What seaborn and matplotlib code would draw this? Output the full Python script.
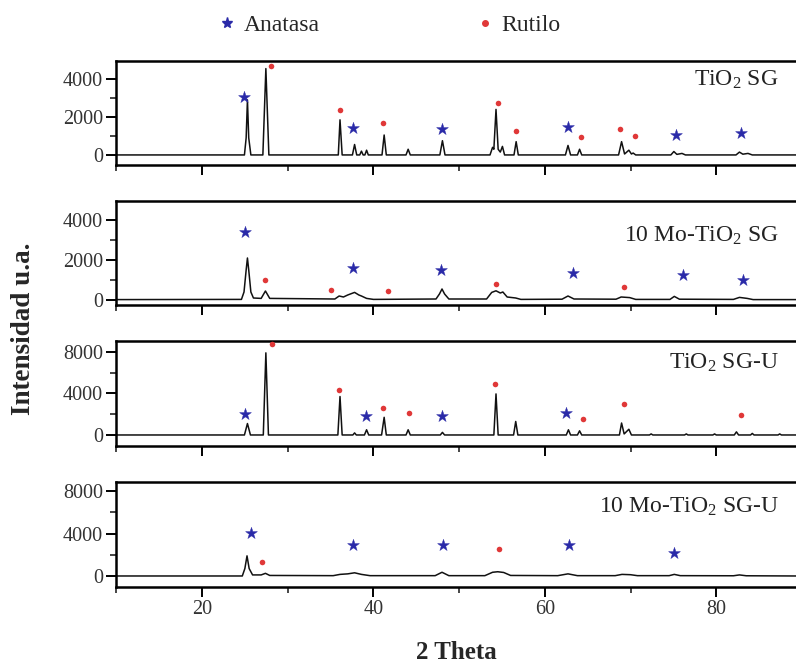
import numpy as np
import pandas as pd
import seaborn as sns
import matplotlib.pyplot as plt
from matplotlib.lines import Line2D
from matplotlib.ticker import MultipleLocator

sns.set_style("ticks")
plt.rcParams['font.family'] = ['Liberation Serif', 'DejaVu Serif']
plt.rcParams['mathtext.fontset'] = 'custom'
plt.rcParams['mathtext.rm'] = 'Liberation Serif'
plt.rcParams['mathtext.it'] = 'Liberation Serif:italic'
plt.rcParams['mathtext.bf'] = 'Liberation Serif:bold'

# ---------------- data ----------------
panel_labels = ["TiO$_\\mathregular{2}$ SG", "10 Mo-TiO$_\\mathregular{2}$ SG",
                "TiO$_\\mathregular{2}$ SG-U", "10 Mo-TiO$_\\mathregular{2}$ SG-U"]

# Panel 1: TiO2 SG
x_p1 = [10, 24.95, 25.15, 25.3, 25.45, 25.7, 27.1, 27.45, 27.8, 35.9, 36.1, 36.35,
        37.55, 37.8, 38.05, 38.4, 38.6, 38.8, 39.0, 39.2, 39.4, 41.0, 41.25, 41.5,
        43.8, 44.05, 44.3, 47.75, 48.05, 48.35, 53.6, 53.9, 54.05, 54.3, 54.55, 54.8,
        55.05, 55.3, 56.4, 56.65, 56.9, 62.4, 62.7, 63.0, 63.8, 64.05, 64.3,
        68.6, 68.95, 69.3, 69.8, 70.1, 70.3, 70.6, 74.7, 75.05, 75.4, 76.0, 76.4,
        82.3, 82.7, 83.1, 83.7, 84.2, 89.3]
y_p1 = [0, 0, 900, 2900, 900, 0, 0, 4550, 0, 0, 1850, 0,
        0, 550, 0, 0, 200, 0, 0, 250, 0, 0, 1050, 0,
        0, 300, 0, 0, 750, 0, 0, 400, 300, 2400, 300, 150,
        450, 0, 0, 700, 0, 0, 500, 0, 0, 300, 0,
        0, 700, 50, 250, 50, 100, 0, 0, 180, 30, 80, 0,
        0, 150, 40, 80, 0, 0]

# Panel 2: 10 Mo-TiO2 SG
x_p2 = [10, 24.6, 24.9, 25.15, 25.3, 25.45, 25.7, 26.0, 26.9, 27.4, 27.9,
        35.5, 36.0, 36.5, 37.0, 37.8, 38.3, 38.6, 39.2, 40.0,
        47.3, 47.7, 48.0, 48.3, 48.8, 53.2, 53.8, 54.3, 54.8, 55.1, 55.6, 56.6, 57.2,
        62.0, 62.7, 63.4, 68.3, 68.9, 69.9, 70.6, 74.6, 75.1, 75.7,
        82.0, 82.7, 83.6, 84.3, 89.3]
y_p2 = [20, 30, 400, 1500, 2100, 1500, 400, 100, 80, 450, 80,
        50, 200, 150, 250, 380, 250, 200, 80, 30,
        50, 300, 550, 300, 50, 50, 380, 460, 350, 400, 150, 100, 30,
        40, 200, 50, 40, 150, 120, 30, 30, 180, 40,
        30, 130, 80, 20, 20]

# Panel 3: TiO2 SG-U
x_p3 = [10, 24.95, 25.3, 25.65, 27.15, 27.45, 27.75, 35.85, 36.1, 36.35,
        37.6, 37.8, 38.0, 38.95, 39.2, 39.45, 40.95, 41.25, 41.5, 43.8, 44.05, 44.3,
        47.8, 48.05, 48.3, 54.05, 54.3, 54.55, 56.35, 56.6, 56.85, 62.5, 62.75, 63.0,
        63.8, 64.05, 64.3, 68.7, 68.95, 69.25, 69.8, 70.1, 72.2, 72.4, 72.6,
        76.3, 76.5, 76.7, 79.6, 79.8, 80.0, 82.1, 82.35, 82.6, 84.0, 84.2, 84.4,
        87.2, 87.4, 87.6, 89.3]
y_p3 = [0, 0, 1100, 0, 0, 7900, 0, 0, 3700, 0,
        0, 200, 0, 0, 500, 0, 0, 1700, 0, 0, 500, 0,
        0, 250, 0, 0, 3950, 0, 0, 1300, 0, 0, 500, 0,
        0, 400, 0, 0, 1150, 100, 550, 0, 0, 100, 0,
        0, 100, 0, 0, 100, 0, 0, 300, 0, 0, 150, 0,
        0, 100, 0, 0]

# Panel 4: 10 Mo-TiO2 SG-U
x_p4 = [10, 24.7, 25.0, 25.25, 25.5, 25.9, 26.9, 27.4, 27.9,
        35.3, 36.1, 37.0, 37.8, 38.6, 39.6, 47.2, 48.0, 48.8,
        53.0, 53.9, 54.5, 55.2, 56.0, 61.5, 62.7, 63.8,
        68.2, 69.0, 70.0, 70.8, 74.5, 75.1, 75.8, 82.0, 82.7, 83.5, 89.3]
y_p4 = [0, 0, 700, 1900, 700, 100, 100, 250, 50,
        30, 150, 200, 300, 150, 30, 30, 350, 30,
        30, 350, 400, 330, 50, 30, 200, 30,
        30, 150, 120, 30, 30, 150, 30, 20, 100, 20, 0]

# phase markers (Anatasa = star, Rutilo = dot)
ana_x = [[24.9, 37.6, 48.0, 62.65, 75.3, 82.9],
         [25.0, 37.6, 47.85, 63.3, 76.1, 83.1],
         [25.0, 39.1, 48.0, 62.5],
         [25.75, 37.6, 48.1, 62.8, 75.1]]
ana_y = [[3070, 1440, 1350, 1490, 1050, 1140],
         [3420, 1580, 1500, 1370, 1230, 990],
         [1970, 1810, 1810, 2130],
         [4100, 2940, 2940, 2940, 2180]]
rut_x = [[28.1, 36.1, 41.15, 54.5, 56.6, 64.25, 68.75, 70.5],
         [27.4, 35.1, 41.75, 54.35, 69.2],
         [28.2, 36.0, 41.15, 44.2, 54.2, 64.4, 69.2, 82.9],
         [27.0, 54.65]]
rut_y = [[4700, 2370, 1670, 2720, 1260, 965, 1350, 1020],
         [1000, 510, 460, 820, 660],
         [8730, 4350, 2600, 2130, 4890, 1490, 3020, 1900],
         [1340, 2560]]

label_y = [3950, 3200, 6900, 6500]
ylims = [(-530, 4950), (-250, 4950), (-1060, 9040), (-1040, 8870)]
ymajor = [2000, 2000, 4000, 4000]

curves_x = [x_p1, x_p2, x_p3, x_p4]
curves_y = [y_p1, y_p2, y_p3, y_p4]

star_color = "#2a2aa8"
dot_color = "#e03838"

# ---------------- figure ----------------
fig = plt.figure(figsize=(7.96, 6.71), dpi=100)
W, H = 796.0, 671.0
left = 116.3 / W
panel_px = [(61, 165), (201, 305), (341, 446), (482, 587)]

for i in range(4):
    top, bot = panel_px[i]
    ax = fig.add_axes([left, 1 - bot / H, 1 - left, (bot - top) / H])
    df = pd.DataFrame({"two_theta": curves_x[i], "intensity": curves_y[i]})
    sns.lineplot(data=df, x="two_theta", y="intensity", ax=ax, color="#111111",
                 linewidth=1.1, estimator=None, sort=False)
    sns.scatterplot(x=ana_x[i], y=ana_y[i], ax=ax, marker="*", s=80,
                    color=star_color, edgecolor=star_color, linewidth=0.3, zorder=5)
    sns.scatterplot(x=rut_x[i], y=rut_y[i], ax=ax, marker="o", s=16,
                    color=dot_color, edgecolor=dot_color, linewidth=0, zorder=5)
    ax.set_xlim(10, 89.3)
    ax.set_ylim(*ylims[i])
    ax.xaxis.set_major_locator(MultipleLocator(20))
    ax.xaxis.set_minor_locator(MultipleLocator(10))
    ax.yaxis.set_major_locator(MultipleLocator(ymajor[i]))
    ax.yaxis.set_minor_locator(MultipleLocator(ymajor[i] / 2))
    ax.tick_params(axis="both", which="major", direction="out", length=7.5,
                   width=1.4, labelsize=14.5, pad=2, colors="black")
    ax.tick_params(axis="both", which="minor", direction="out", length=4.5,
                   width=1.2)
    ax.tick_params(axis="y", labelcolor="#333333")
    for s in ["left", "top", "bottom"]:
        ax.spines[s].set_linewidth(1.8)
        ax.spines[s].set_color("black")
    ax.spines["right"].set_visible(False)
    ax.set_ylabel("")
    ax.text(87.3, label_y[i], panel_labels[i], ha="right", va="center",
            fontsize=17, color="#222222")
    if i < 3:
        ax.tick_params(axis="x", labelbottom=False)
        ax.set_xlabel("")
    else:
        ax.tick_params(axis="x", labelcolor="#333333")
        ax.set_xlabel("2 Theta", fontsize=18, fontweight="bold", labelpad=16)

fig.text(24 / W, 1 - 329 / H, "Intensidad u.a.", rotation=90, ha="center",
         va="center", fontsize=19.5, fontweight="bold")

handles = [Line2D([], [], marker="*", ls="", color=star_color, markersize=8),
           Line2D([], [], marker="o", ls="", color=dot_color, markersize=4)]
fig.legend(handles, ["Anatasa", "Rutilo"], loc="center left",
           bbox_to_anchor=(199 / W, 1 - 25 / H), ncol=2, frameon=False,
           fontsize=17, handlelength=0.6, handletextpad=0.4, columnspacing=6.7,
           borderpad=0.4)

fig.savefig("out.png", dpi=100)
